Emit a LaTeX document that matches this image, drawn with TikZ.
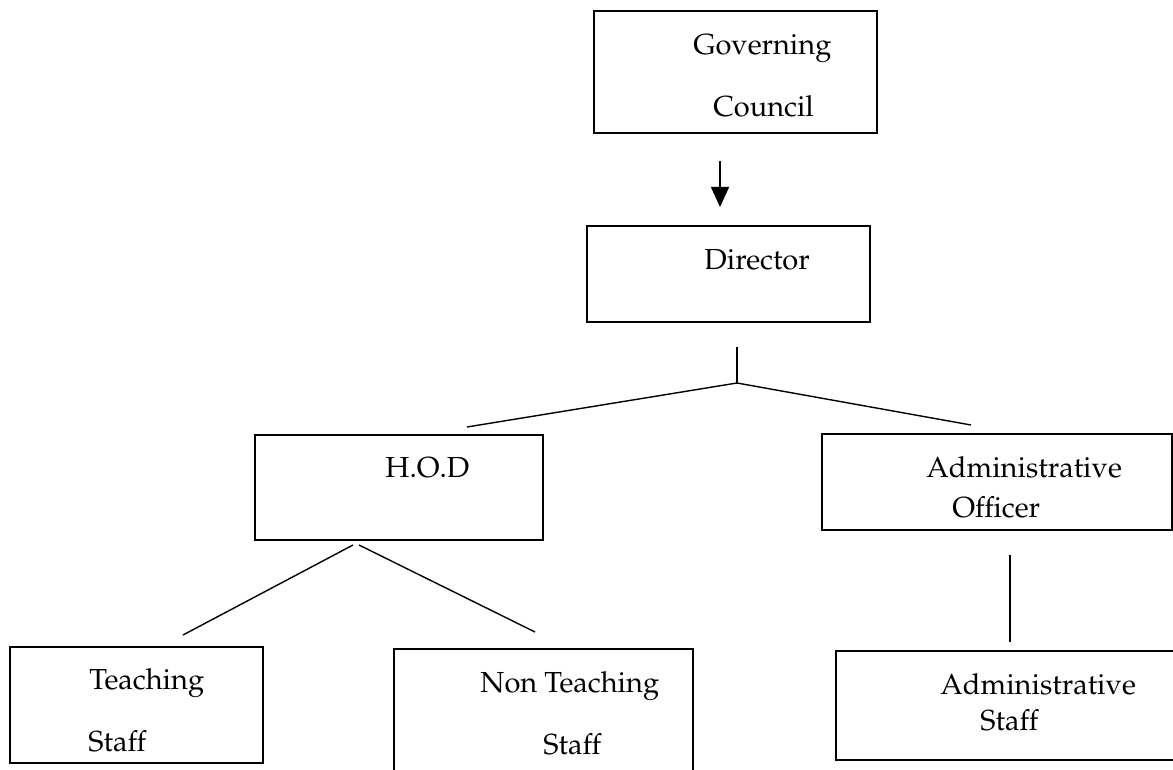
\documentclass[tikz,border=0pt]{standalone}
\usepackage[T1]{fontenc}
\usepackage{mathpazo}
\usepackage{tikz}
\usetikzlibrary{arrows.meta}

\begin{document}
\begin{tikzpicture}[x=0.5pt, y=-0.5pt,
    box/.style={draw, line width=0.8pt, inner sep=0pt},
    txt/.style={inner sep=0pt, anchor=base west, font=\fontsize{14.5}{17}\selectfont},
    link/.style={line width=0.7pt}]
  \clip (0,0) rectangle (1173,770);

  % boxes
  \node[box, minimum width=141.5pt, minimum height=61pt] (council) at (735.5,72) {};
  \node[box, minimum width=141.5pt, minimum height=48pt] (director) at (728.5,274) {};
  \node[box, minimum width=144pt, minimum height=52.5pt] (hod) at (399,487.5) {};
  \node[box, minimum width=175pt, minimum height=48pt] (adminoff) at (997,482) {};
  \node[box, minimum width=126.5pt, minimum height=58pt] (teaching) at (136.5,705) {};
  \node[box, minimum width=149.5pt, minimum height=75.5pt] (nonteaching) at (543.5,724.5) {};
  \node[box, minimum width=182pt, minimum height=54.5pt] (adminstaff) at (1018,705.5) {};

  % texts
  \node[txt] (councilA) at (693,55) {Governing};
  \node[txt] (councilB) at (713,117) {Council};
  \node[txt] (directorA) at (704,270) {Director};
  \node[txt] (hodA) at (385,477) {H.O.D};
  \node[txt] (adminoffA) at (926,477) {Administrative};
  \node[txt] (adminoffB) at (952,517) {Officer};
  \node[txt] (teachingA) at (89,689) {Teaching};
  \node[txt] (teachingB) at (88,751) {Staff};
  \node[txt] (nonteachingA) at (480,692) {Non Teaching};
  \node[txt] (nonteachingB) at (543,754) {Staff};
  \node[txt] (adminstaffA) at (940,694) {Administrative};
  \node[txt] (adminstaffB) at (980,730) {Staff};

  % connector ends
  \coordinate (arrowtop) at (720,161);
  \coordinate (arrowtip) at (720,207);
  \coordinate (dirstem) at (737,347);
  \coordinate (dirfork) at (737,383);
  \coordinate (hodend) at (467,427);
  \coordinate (adminoffend) at (971,425);
  \coordinate (hodforkL) at (353,545);
  \coordinate (hodforkR) at (359,545);
  \coordinate (teachingend) at (183,635);
  \coordinate (nonteachingend) at (535,632);
  \coordinate (aostem) at (1010,555);
  \coordinate (adminstaffend) at (1010,642);

  \draw[link, -{Triangle[width=9pt, length=10pt]}] (arrowtop) -- (arrowtip);
  \draw[link] (dirstem) -- (dirfork);
  \draw[link] (hodend) -- (dirfork) -- (adminoffend);
  \draw[link] (hodforkL) -- (teachingend);
  \draw[link] (hodforkR) -- (nonteachingend);
  \draw[link] (aostem) -- (adminstaffend);
\end{tikzpicture}
\end{document}
